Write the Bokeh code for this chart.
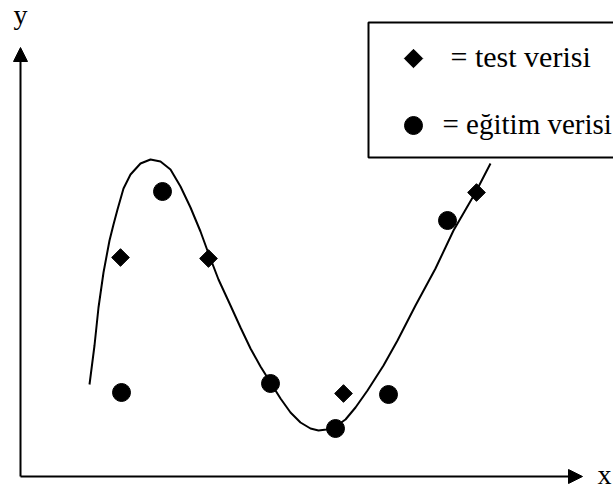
import math

from bokeh.plotting import figure
from bokeh.models import Arrow, NormalHead, BoxAnnotation, Label, Range1d
from bokeh.embed import file_html
from bokeh.resources import INLINE

# Fitted model curve, sampled along x
curve_x = [1.38, 1.48, 1.56, 1.66, 1.78, 1.86, 1.94, 2.06, 2.20, 2.40, 2.60, 2.80,
           3.00, 3.20, 3.40, 3.60, 3.76, 3.96, 4.20, 4.40, 4.60, 4.80, 5.00, 5.20,
           5.40, 5.60, 5.80, 5.96, 6.12, 6.30, 6.50, 6.70, 6.94, 7.26, 7.54, 7.90,
           8.30, 8.66, 9.10, 9.40]
curve_y = [1.84, 2.62, 3.38, 4.08, 4.72, 5.04, 5.34, 5.76, 6.04, 6.26, 6.34, 6.30,
           6.14, 5.80, 5.38, 4.90, 4.46, 3.94, 3.42, 2.98, 2.56, 2.20, 1.88, 1.56,
           1.28, 1.08, 0.96, 0.92, 0.94, 1.00, 1.14, 1.38, 1.72, 2.22, 2.72, 3.42,
           4.16, 4.92, 5.68, 6.26]

# Test data (diamonds)
test_x = [2.00, 3.76, 6.46, 9.12]
test_y = [4.38, 4.36, 1.66, 5.68]

# Training data (circles)
train_x = [2.02, 2.84, 5.00, 6.30, 7.36, 8.54]
train_y = [1.68, 5.70, 1.86, 0.96, 1.64, 5.12]

legend_labels = ["= test verisi", "= eğitim verisi"]
axis_labels = ["x", "y"]

SERIF = "Liberation Serif"

p = figure(width=613, height=492,
           x_range=Range1d(-0.4, 11.86), y_range=Range1d(-0.32, 9.52),
           x_axis_location=None, y_axis_location=None,
           toolbar_location=None, output_backend="svg",
           min_border=0, background_fill_color="white",
           border_fill_color="white")
p.grid.visible = False
p.outline_line_color = None

# Axes drawn as arrows from the origin
p.add_layout(Arrow(end=NormalHead(size=14, fill_color="black", line_color="black", line_width=1),
                   x_start=0, y_start=0, x_end=11.24, y_end=0,
                   line_color="black", line_width=2))
p.add_layout(Arrow(end=NormalHead(size=14, fill_color="black", line_color="black", line_width=1),
                   x_start=0, y_start=0, x_end=0, y_end=8.58,
                   line_color="black", line_width=2))

p.add_layout(Label(x=11.54, y=0.04, text=axis_labels[0], text_font=SERIF,
                   text_font_size="28px", text_color="black",
                   text_baseline="alphabetic"))
p.add_layout(Label(x=-0.14, y=9.24, text=axis_labels[1], text_font=SERIF,
                   text_font_size="28px", text_color="black",
                   text_baseline="alphabetic"))

# Model curve
p.line(curve_x, curve_y, line_color="black", line_width=2)

# Data points
p.scatter(test_x, test_y, marker="square", size=12.5, angle=math.pi / 4,
          fill_color="black", line_color="black")
p.scatter(train_x, train_y, marker="circle", size=18,
          fill_color="black", line_color="black")

# Legend frame, keys and labels
p.add_layout(BoxAnnotation(left=6.96, right=12.4, top=9.08, bottom=6.38,
                           fill_alpha=0, line_color="black", line_alpha=1,
                           line_width=2))
p.scatter([7.86], [8.36], marker="square", size=13, angle=math.pi / 4,
          fill_color="black", line_color="black")
p.scatter([7.86], [7.02], marker="circle", size=18,
          fill_color="black", line_color="black")
p.add_layout(Label(x=8.60, y=8.40, text=legend_labels[0], text_font=SERIF,
                   text_font_size="30px", text_color="black",
                   text_baseline="alphabetic"))
p.add_layout(Label(x=8.44, y=7.06, text=legend_labels[1], text_font=SERIF,
                   text_font_size="29px", text_color="black",
                   text_baseline="alphabetic"))

open("out.html", "w").write(file_html(p, INLINE))
